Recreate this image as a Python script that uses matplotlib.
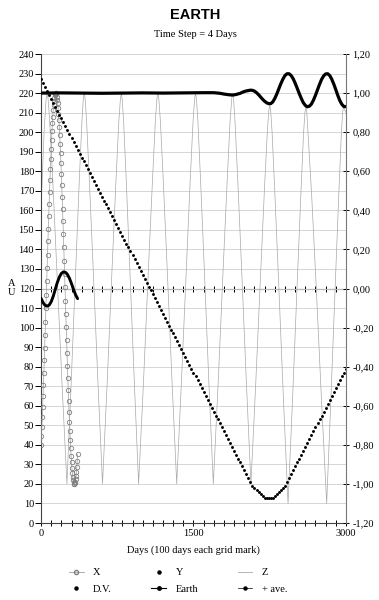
import numpy as np
import matplotlib
matplotlib.use('Agg')
import matplotlib.pyplot as plt
from matplotlib.lines import Line2D
from matplotlib.ticker import MultipleLocator, FixedLocator, FuncFormatter

plt.rcParams['font.family'] = ['Liberation Serif', 'DejaVu Serif']

# X: first year only, one point every 4 days (left axis, 0-240)
x_days = np.arange(0, 361, 4)
x_vals = [40.0, 44.3, 49.0, 54.0, 59.3, 64.9, 70.8, 76.9, 83.2, 89.8,
          96.4, 103.1, 110.0, 116.8, 123.7, 130.6, 137.4, 144.1, 150.7, 157.2,
          163.5, 169.6, 175.5, 181.1, 186.5, 191.5, 196.2, 200.5, 204.5, 208.0,
          211.1, 213.7, 215.7, 217.5, 218.8, 219.6, 220.0, 219.9, 219.3, 218.2,
          216.7, 214.8, 212.3, 209.5, 206.2, 202.5, 198.4, 193.9, 189.1, 184.0,
          178.6, 172.9, 166.9, 160.7, 154.3, 147.8, 141.1, 134.3, 127.5, 120.6,
          113.7, 106.9, 100.1, 93.4, 86.8, 80.4, 74.2, 68.2, 62.4, 56.9,
          51.7, 46.9, 42.3, 38.2, 34.4, 31.1, 28.2, 25.7, 23.6, 22.0,
          20.8, 20.2, 20.0, 20.3, 21.0, 22.3, 24.0, 26.1, 28.7, 31.7,
          35.2]

# Y: nothing visible in the picture
y_days = []
y_vals = []

# Z (left axis), one row per half swing
z_days = [0, 30, 50, 60,
          70, 85, 115, 157, 206, 255,
          297, 340, 377, 403, 416, 425,
          434, 448, 475, 515, 560, 605,
          651, 697, 738, 766, 781, 790,
          798, 812, 838, 875, 918, 960,
          1008, 1055, 1097, 1125, 1140, 1150,
          1159, 1174, 1202, 1243, 1289, 1335,
          1381, 1428, 1468, 1496, 1511, 1520,
          1529, 1543, 1569, 1608, 1651, 1695,
          1743, 1790, 1832, 1860, 1876, 1885,
          1894, 1908, 1935, 1975, 2020, 2065,
          2111, 2158, 2198, 2226, 2241, 2250,
          2259, 2273, 2300, 2340, 2385, 2430,
          2474, 2518, 2556, 2582, 2596, 2605,
          2615, 2627, 2662, 2708, 2759, 2810,
          2851, 2893, 2929, 2954, 2967, 2975, 3000]
z_vals = [160, 200, 217, 220,
          217, 206, 176, 128, 72, 20,
          72, 128, 176, 206, 217, 220,
          217, 206, 176, 128, 72, 20,
          72, 128, 176, 206, 217, 220,
          217, 206, 176, 128, 72, 20,
          72, 128, 176, 206, 217, 220,
          217, 206, 176, 128, 72, 20,
          72, 128, 176, 206, 217, 220,
          217, 206, 176, 128, 72, 20,
          72, 128, 176, 206, 217, 220,
          217, 206, 176, 128, 72, 20,
          70, 125, 171, 200, 211, 214,
          211, 200, 169, 120, 63, 10,
          63, 120, 168, 199, 210, 213,
          210, 199, 168, 120, 63, 10,
          63, 120, 168, 199, 210, 213, 210]

# D.V. (right axis), one dot every 20 days
dv_vals = [1.07, 1.05, 1.03, 1.01, 0.99, 0.97, 0.95, 0.93, 0.91, 0.89,
           0.87, 0.85, 0.83, 0.81, 0.79, 0.77, 0.75, 0.73, 0.71, 0.69,
           0.67, 0.65, 0.63, 0.61, 0.59, 0.57, 0.55, 0.53, 0.51, 0.49,
           0.47, 0.45, 0.43, 0.41, 0.39, 0.37, 0.35, 0.33, 0.31, 0.29,
           0.27, 0.25, 0.23, 0.21, 0.19, 0.17, 0.15, 0.13, 0.11, 0.09,
           0.07, 0.05, 0.03, 0.01, -0.01, -0.03, -0.05, -0.07, -0.09, -0.11,
           -0.13, -0.15, -0.17, -0.19, -0.21, -0.23, -0.25, -0.27, -0.29, -0.31,
           -0.33, -0.35, -0.37, -0.39, -0.41, -0.43, -0.45, -0.47, -0.49, -0.51,
           -0.53, -0.55, -0.57, -0.59, -0.61, -0.63, -0.65, -0.67, -0.69, -0.71,
           -0.73, -0.75, -0.77, -0.79, -0.81, -0.83, -0.85, -0.87, -0.89, -0.91,
           -0.93, -0.95, -0.97,
           -0.99, -1.01, -1.02, -1.03, -1.04, -1.05, -1.06, -1.07, -1.07, -1.07,
           -1.07, -1.07, -1.06, -1.05, -1.04, -1.03, -1.02, -1.01, -0.99, -0.97,
           -0.95, -0.93, -0.91, -0.89, -0.87, -0.85, -0.83, -0.81, -0.79, -0.77,
           -0.75, -0.73, -0.71, -0.69, -0.67, -0.65, -0.63, -0.61, -0.59, -0.57,
           -0.55, -0.53, -0.51, -0.49, -0.47, -0.45, -0.43, -0.41]
dv_days = np.arange(0, 20 * len(dv_vals), 20)

# Earth (right axis)
earth_days = [0, 200, 400, 600, 800, 1000, 1200, 1400, 1600, 1700, 1760, 1800, 1840] \
    + list(range(1880, 3001, 20))
earth_vals = [1.000, 1.001, 1.000, 0.999, 1.000, 1.001, 1.000, 1.001, 1.002, 1.002,
              0.999, 0.995, 0.992,
              0.990, 0.991, 0.993, 0.996, 0.999, 1.004, 1.008, 1.011, 1.013, 1.015,
              1.014, 1.010, 1.002, 0.992, 0.980, 0.968, 0.958, 0.950, 0.946, 0.946,
              0.955, 0.973, 0.996, 1.023, 1.049, 1.072, 1.090, 1.099, 1.099, 1.090,
              1.074, 1.051, 1.025, 0.998, 0.973, 0.951, 0.937, 0.930, 0.933, 0.944,
              0.964, 0.989, 1.017, 1.045, 1.070, 1.088, 1.098, 1.099, 1.090, 1.071,
              1.046, 1.017, 0.987, 0.961, 0.942, 0.931, 0.931]

# + ave. (right axis), first year
ave_days = np.arange(0, 361, 20)
ave_vals = [-0.050, -0.072, -0.086, -0.090, -0.085, -0.068, -0.040, -0.005, 0.030,
            0.058, 0.077, 0.085, 0.083, 0.072, 0.052, 0.025, -0.005, -0.032, -0.052]

fig = plt.figure(figsize=(3.79, 6.0), dpi=100)
ax = fig.add_axes([0.1082, 0.1283, 0.8047, 0.7817])
ax2 = ax.twinx()

ax.plot(z_days, z_vals, color='#a8a8a8', lw=0.5, zorder=2)
ax.plot(x_days, x_vals, color='#a0a0a0', lw=0.5, marker='o', ms=3.2,
        mfc='none', mec='#808080', mew=0.6, zorder=3)
ax.plot(y_days, y_vals, ls='none', marker='o', ms=2, color='black')

ax2.plot(dv_days, dv_vals, ls='none', marker='o', ms=2.1, color='black', mew=0)
ax2.plot(earth_days, earth_vals, color='black', lw=2.3, solid_capstyle='round')
ax2.plot(ave_days, ave_vals, color='black', lw=2.1, solid_capstyle='round')

ax.set_xlim(0, 3000)
ax.set_ylim(0, 240)
ax2.set_ylim(-1.2, 1.2)

ax.yaxis.set_major_locator(MultipleLocator(10))
ax.grid(axis='y', color='#cfcfcf', lw=0.6)
ax.set_axisbelow(True)
ax.xaxis.set_major_locator(FixedLocator([0, 1500, 3000]))
ax.xaxis.set_minor_locator(MultipleLocator(100))
ax.tick_params(axis='x', which='both', direction='inout', length=5, width=0.7,
               labelsize=7.5, pad=2)
ax.tick_params(axis='y', direction='out', length=4, width=0.7, labelsize=7.5, pad=1)

ax2.yaxis.set_major_locator(MultipleLocator(0.2))
ax2.yaxis.set_major_formatter(FuncFormatter(lambda v, p: f'{v:.2f}'.replace('.', ',')))
ax2.tick_params(axis='y', direction='inout', length=5, width=0.7, labelsize=7.5, pad=2)

for s in ['top', 'right']:
    ax.spines[s].set_visible(False)
for s in ['top', 'left', 'bottom']:
    ax2.spines[s].set_visible(False)
ax.spines['left'].set_color('#444444')
ax.spines['bottom'].set_color('#444444')
ax2.spines['right'].set_color('#777777')

# zero line of the right axis with the 100-day marks
sec = ax.secondary_xaxis(0.5)
sec.xaxis.set_major_locator(MultipleLocator(100))
sec.tick_params(which='both', direction='inout', length=5, width=0.7,
                labeltop=False, labelbottom=False)
for s in sec.spines.values():
    s.set_color('#444444')

fig.text(0.515, 0.975, 'EARTH', ha='center', va='center', fontsize=10.5,
         fontweight='bold', family=['Liberation Sans', 'DejaVu Sans'])
fig.text(0.515, 0.943, 'Time Step = 4 Days', ha='center', va='center', fontsize=7.5)
fig.text(0.51, 0.083, 'Days (100 days each grid mark)', ha='center', va='center',
         fontsize=7.5)
fig.text(0.03, 1 - 288 / 600, 'A\nU', ha='center', va='center', fontsize=7.5,
         linespacing=1.1)

h_x = Line2D([], [], color='#a0a0a0', lw=0.6, marker='o', ms=3, mfc='none', mec='#808080')
h_y = Line2D([], [], ls='none', marker='o', ms=2.2, color='black')
h_z = Line2D([], [], color='#a8a8a8', lw=0.6)
h_dv = Line2D([], [], ls='none', marker='o', ms=2.2, color='black')
h_e = Line2D([], [], color='black', lw=0.8, marker='o', ms=2.5)
h_a = Line2D([], [], color='black', lw=0.5, marker='o', ms=2.2)
fig.legend([h_x, h_dv, h_y, h_e, h_z, h_a], ['X', 'D.V.', 'Y', 'Earth', 'Z', '+ ave.'],
           ncol=3, loc='center', bbox_to_anchor=(0.47, 0.032), frameon=False,
           fontsize=7.5, handlelength=1.4, handletextpad=0.9, columnspacing=3.8,
           labelspacing=0.7)

fig.savefig('out.png', dpi=100)
